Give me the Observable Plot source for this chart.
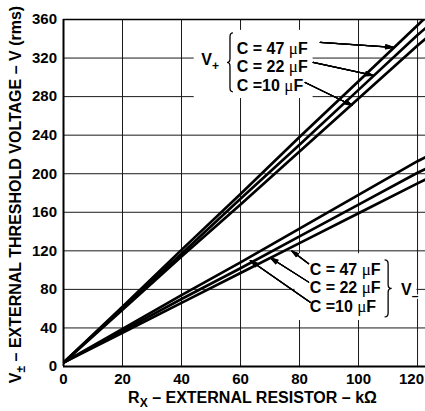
<!DOCTYPE html>
<html><head><meta charset="utf-8">
<script src="https://cdn.jsdelivr.net/npm/d3@7"></script>
<script src="https://cdn.jsdelivr.net/npm/@observablehq/plot@0.6"></script>
<style>
body{margin:0;background:#fff;}
#chart{width:425px;height:411px;overflow:hidden;}
svg{display:block;}
</style></head><body><div id="chart"></div>
<script>
// ---- data ----
const resistanceK = [0, 20, 40, 60, 80, 100, 120, 122.7];
const vPlus47  = [4, 62, 121, 179, 238, 296, 354, 362];
const vPlus22  = [4, 61, 117, 174, 230, 287, 344, 351];
const vPlus10  = [4, 59, 114, 168, 223, 278, 333, 340];
const vMinus47 = [4, 39, 74, 108, 143, 178, 213, 217];
const vMinus22 = [4, 37, 70, 102, 135, 168, 201, 205];
const vMinus10 = [4, 35, 66, 97, 128, 159, 190, 194];
const seriesNames = ["V+ 47µF", "V+ 22µF", "V+ 10µF", "V- 47µF", "V- 22µF", "V- 10µF"];
const seriesValues = [vPlus47, vPlus22, vPlus10, vMinus47, vMinus22, vMinus10];
const xTicks = [0, 20, 40, 60, 80, 100, 120];
const yTicks = [0, 40, 80, 120, 160, 200, 240, 280, 320, 360];
const capLabels = ["C = 47 ", "C = 22 ", "C =10 "];

// annotation anchors (data units)
const upperLabelX = 58.9, upperLabelY = [323.9, 304.7, 285.5];
const lowerLabelX = 83.6, lowerLabelY = [94.4, 75.4, 56.4];
const upperArrowFrom = [[87.0, 336.3], [84.6, 315.5], [81.9, 294.7]];
const upperArrowTo   = [[111.8, 331.1], [105.0, 302.0], [97.9, 270.9]];
const lowerArrowFrom = [[83.1, 106.6], [83.1, 87.5], [83.6, 66.7]];
const lowerArrowTo   = [[77.4, 119.8], [70.1, 112.8], [63.3, 109.9]];
const whiteBoxes = [
  {x1: 44.3, x2: 84.6, y1: 278, y2: 348.7},
  {x1: 78.5, x2: 119.8, y1: 47.7, y2: 117}
];
const upperBrace = {x1: 55.6, x2: 57.6, y1: 345.6, y2: 284.4};
const lowerBrace = {x1: 109.0, x2: 111.4, y1: 110, y2: 50.9};
const vPlusLabel = {x: 46.85, y: 312.3};
const vMinusLabel = {x: 114.6, y: 73.7};

// ---- build ----
const rows = seriesNames.flatMap((name, s) =>
  resistanceK.map((x, i) => ({x, v: seriesValues[s][i], key: name})));
const arrows = [...upperArrowFrom.map((f, i) => ({f, t: upperArrowTo[i]})),
                ...lowerArrowFrom.map((f, i) => ({f, t: lowerArrowTo[i]}))];
const font = "'Liberation Sans', Arial, Helvetica, sans-serif";

const arrowMarks = [8, 16, 24, 32].map(a => Plot.arrow(arrows, {
  x1: d => d.f[0], y1: d => d.f[1], x2: d => d.t[0], y2: d => d.t[1],
  stroke: "black", strokeWidth: 1.1, headAngle: a, headLength: 11
}));

const plot = Plot.plot({
  width: 425, height: 411,
  marginLeft: 63, marginRight: 0, marginTop: 19, marginBottom: 45,
  x: {domain: [0, 122.7]},
  y: {domain: [0, 360]},
  style: {fontFamily: font, fontSize: "15px", fontWeight: "bold", background: "white", color: "black", overflow: "hidden"},
  marks: [
    Plot.gridX(xTicks.slice(1), {stroke: "#1a1a1a", strokeOpacity: 1, strokeWidth: 1}),
    Plot.gridY(yTicks.slice(1, -1), {stroke: "#1a1a1a", strokeOpacity: 1, strokeWidth: 1}),
    Plot.rect(whiteBoxes, {x1: "x1", x2: "x2", y1: "y1", y2: "y2", fill: "white"}),
    Plot.ruleX([0], {stroke: "black", strokeWidth: 2}),
    Plot.ruleY([0], {stroke: "black", strokeWidth: 2}),
    Plot.ruleY([360], {stroke: "black", strokeWidth: 1.6}),
    Plot.line(rows, {x: "x", y: "v", z: "key", stroke: "black", strokeWidth: 2.7, clip: true}),
    ...arrowMarks,
    Plot.axisX({ticks: xTicks.slice(0, -1), tickSize: 0, tickPadding: 7, fontSize: 15, fontWeight: "bold", label: null}),
    Plot.axisX({ticks: xTicks.slice(-1), tickSize: 0, tickPadding: 7, fontSize: 15, fontWeight: "bold", label: null, dx: -6}),
    Plot.axisY({ticks: yTicks, tickSize: 0, tickPadding: 6.5, fontSize: 15, fontWeight: "bold", label: null})
  ]
});
document.getElementById("chart").append(plot);

const sx = plot.scale("x"), sy = plot.scale("y");
const X = v => sx.apply(v), Y = v => sy.apply(v);
const svg = d3.select(plot);
const g = svg.append("g").attr("font-family", font).attr("font-weight", "bold").attr("fill", "black").attr("text-anchor", "start");

// capacitor labels
function capText(x, y, label) {
  const t = g.append("text").attr("x", X(x)).attr("y", Y(y)).attr("font-size", 16).attr("text-anchor", "start");
  t.append("tspan").text(label);
  t.append("tspan").attr("font-family", "'Liberation Serif', 'DejaVu Serif', serif").attr("font-weight", "normal").attr("font-size", 17).text("\u03BC");
  t.append("tspan").text("F");
}
upperLabelY.forEach((y, i) => capText(upperLabelX, y, capLabels[i]));
lowerLabelY.forEach((y, i) => capText(lowerLabelX, y, capLabels[i]));

// V+ and V- labels
function vLabel(p, sub, halo) {
  const t = g.append("text").attr("x", X(p.x)).attr("y", Y(p.y)).attr("font-size", 16).attr("text-anchor", "start");
  if (halo) t.attr("stroke", "white").attr("stroke-width", 3).attr("paint-order", "stroke");
  t.append("tspan").text("V");
  t.append("tspan").attr("font-size", 12).attr("dy", 5).text(sub);
}
vLabel(vPlusLabel, "+", false);
vLabel(vMinusLabel, "\u2013", true);

// braces
function bracePath(b, tipLeft) {
  const xa = X(b.x1), xb = X(b.x2), yt = Y(b.y1), yb = Y(b.y2);
  const xm = (xa + xb) / 2, ym = (yt + yb) / 2, r = 4;
  const tip = tipLeft ? xa : xb, end = tipLeft ? xb : xa;
  return `M${end},${yt} Q${xm},${yt} ${xm},${yt + r} L${xm},${ym - r} Q${xm},${ym} ${tip},${ym} ` +
         `Q${xm},${ym} ${xm},${ym + r} L${xm},${yb - r} Q${xm},${yb} ${end},${yb}`;
}
g.append("path").attr("d", bracePath(upperBrace, true)).attr("fill", "none").attr("stroke", "black").attr("stroke-width", 1.3);
g.append("path").attr("d", bracePath(lowerBrace, false)).attr("fill", "none").attr("stroke", "black").attr("stroke-width", 1.3);

// axis titles
const xt = g.append("text").attr("x", 252.5).attr("y", 403).attr("text-anchor", "middle").attr("font-size", 16);
xt.append("tspan").text("R");
xt.append("tspan").attr("font-size", 12).attr("dy", 4).text("X");
xt.append("tspan").attr("dy", -4).text(" \u2013 EXTERNAL RESISTOR \u2013 k\u03A9");

const yt = g.append("text").attr("transform", "translate(21,194.5) rotate(-90)").attr("text-anchor", "middle").attr("font-size", 16);
yt.append("tspan").text("V");
yt.append("tspan").attr("font-size", 12).attr("dy", 4).text("\u00B1");
yt.append("tspan").attr("dy", -4).text(" \u2013 EXTERNAL THRESHOLD VOLTAGE \u2013 V (rms)");
</script></body></html>
